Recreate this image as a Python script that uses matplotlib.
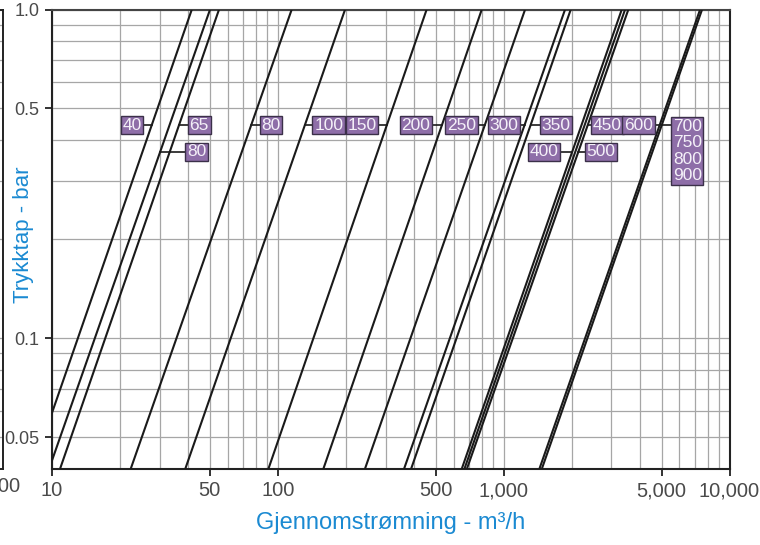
import numpy as np
import matplotlib.pyplot as plt
from matplotlib.ticker import FixedLocator, FixedFormatter, LogLocator, NullFormatter

plt.rcParams['font.family'] = ['Liberation Sans', 'DejaVu Sans']

# flow (m3/h) where each valve curve meets 1.0 bar and 0.04 bar
q_at_1bar = [41.6, 50.1, 54.9, 115.2, 198.5, 456, 800, 1244, 1870, 1982,
             3334, 3448, 3566, 7410, 7560]
q_at_004bar = [8.2, 9.7, 10.85, 22.3, 38.9, 90.8, 159, 243, 362, 389,
               652, 670, 687, 1439, 1475]
dp_top, dp_bottom = 1.0, 0.04

# size labels and which curve each one points at
sizes = ['40', '65', '80', '80', '100', '150', '200', '250', '300', '350',
         '400', '450', '500', '600', '700\n750\n800\n900']
size_line = [0, 2, 1, 3, 4, 5, 6, 7, 8, 9, 10, 12, 12, None, None]

x_ticks = [10, 50, 100, 500, 1000, 5000, 10000]
x_ticklabels = ['10', '50', '100', '500', '1,000', '5,000', '10,000']
y_ticks = [0.05, 0.1, 0.5, 1.0]
y_ticklabels = ['0.05', '0.1', '0.5', '1.0']

# label placement (flow, pressure drop)
label_q = [22.6, 44.8, 43.7, 93.3, 168, 236, 409, 650, 1004, 1706,
           1510, 2884, 2692, 3950, 6500]
label_dp = [0.445, 0.445, 0.369, 0.445, 0.445, 0.445, 0.445, 0.445, 0.445, 0.445,
            0.369, 0.445, 0.369, 0.445, 0.371]

blue = '#1b8ad2'
purple = '#8e6ea8'
tick_grey = '#4a4a4a'

fig = plt.figure(figsize=(7.6, 5.45), dpi=100)
left, bottom = 52 / 760, 76 / 545
width, height = 677.5 / 760, 459.5 / 545

# sliver of the neighbouring chart at the left edge
ax0 = fig.add_axes([-0.5, bottom, 0.5 + 3 / 760, height])
ax0.set_xscale('log')
ax0.set_yscale('log')
ax0.set_xlim(10, 10000)
ax0.set_ylim(0.04, 1.0)
ax0.grid(True, which='both', color='#a6a6a6', lw=0.9)
ax0.tick_params(which='both', length=0, labelleft=False, labelbottom=False)
for s in ax0.spines.values():
    s.set_color('#222222')
    s.set_linewidth(1.4)
fig.text(21 / 760, 1 - 477 / 545, '10,000', ha='right', va='top',
         fontsize=14.5, color=tick_grey)

ax = fig.add_axes([left, bottom, width, height])
ax.set_xscale('log')
ax.set_yscale('log')
ax.set_xlim(10, 10000)
ax.set_ylim(0.04, 1.0)

ax.xaxis.set_major_locator(FixedLocator(x_ticks))
ax.xaxis.set_major_formatter(FixedFormatter(x_ticklabels))
ax.yaxis.set_major_locator(FixedLocator(y_ticks))
ax.yaxis.set_major_formatter(FixedFormatter(y_ticklabels))
ax.xaxis.set_minor_locator(LogLocator(base=10, subs=np.arange(1, 10), numticks=50))
ax.yaxis.set_minor_locator(LogLocator(base=10, subs=np.arange(1, 10), numticks=50))
ax.xaxis.set_minor_formatter(NullFormatter())
ax.yaxis.set_minor_formatter(NullFormatter())

ax.grid(True, which='both', color='#a6a6a6', lw=0.9)
ax.set_axisbelow(True)
ax.tick_params(which='minor', length=0)
ax.tick_params(which='major', length=5, width=1.3, color='#222222', pad=4)
ax.tick_params(axis='x', labelsize=14.5, labelcolor=tick_grey)
ax.tick_params(axis='y', labelsize=13, labelcolor=tick_grey)
for s in ax.spines.values():
    s.set_color('#222222')
    s.set_linewidth(1.5)
ax.spines['top'].set_color('#444444')

for qt, qb in zip(q_at_1bar, q_at_004bar):
    ax.plot([qb, qt], [dp_bottom, dp_top], color='#1a1a1a', lw=1.5, zorder=3,
            solid_capstyle='butt')


def q_on_line(j, dp):
    lq = np.interp(np.log10(dp), [np.log10(dp_bottom), np.log10(dp_top)],
                   [np.log10(q_at_004bar[j]), np.log10(q_at_1bar[j])])
    return 10 ** lq


for i, txt in enumerate(sizes):
    j = size_line[i]
    if j is not None:
        qe = q_on_line(j, label_dp[i])
        ax.plot([label_q[i], qe], [label_dp[i], label_dp[i]], color='#1a1a1a',
                lw=1.2, zorder=4)
    elif txt == '600':
        ax.plot([label_q[i], label_q[-1]], [label_dp[i], label_dp[i]],
                color='#1a1a1a', lw=1.2, zorder=4)
    ax.text(label_q[i], label_dp[i], txt, ha='center', va='center',
            fontsize=12.5, color='#f4f0f8', linespacing=1.12, zorder=6,
            bbox=dict(boxstyle='square,pad=0.1', fc=purple, ec='#3b3049', lw=1))

ax.set_xlabel('Gjennomstrømning - m³/h', fontsize=17, color=blue)
ax.set_ylabel('Trykktap - bar', fontsize=16, color=blue)
ax.xaxis.set_label_coords(0.5, -0.093)
ax.yaxis.set_label_coords(-0.027, 0.51)

fig.savefig('out.png', dpi=100)
